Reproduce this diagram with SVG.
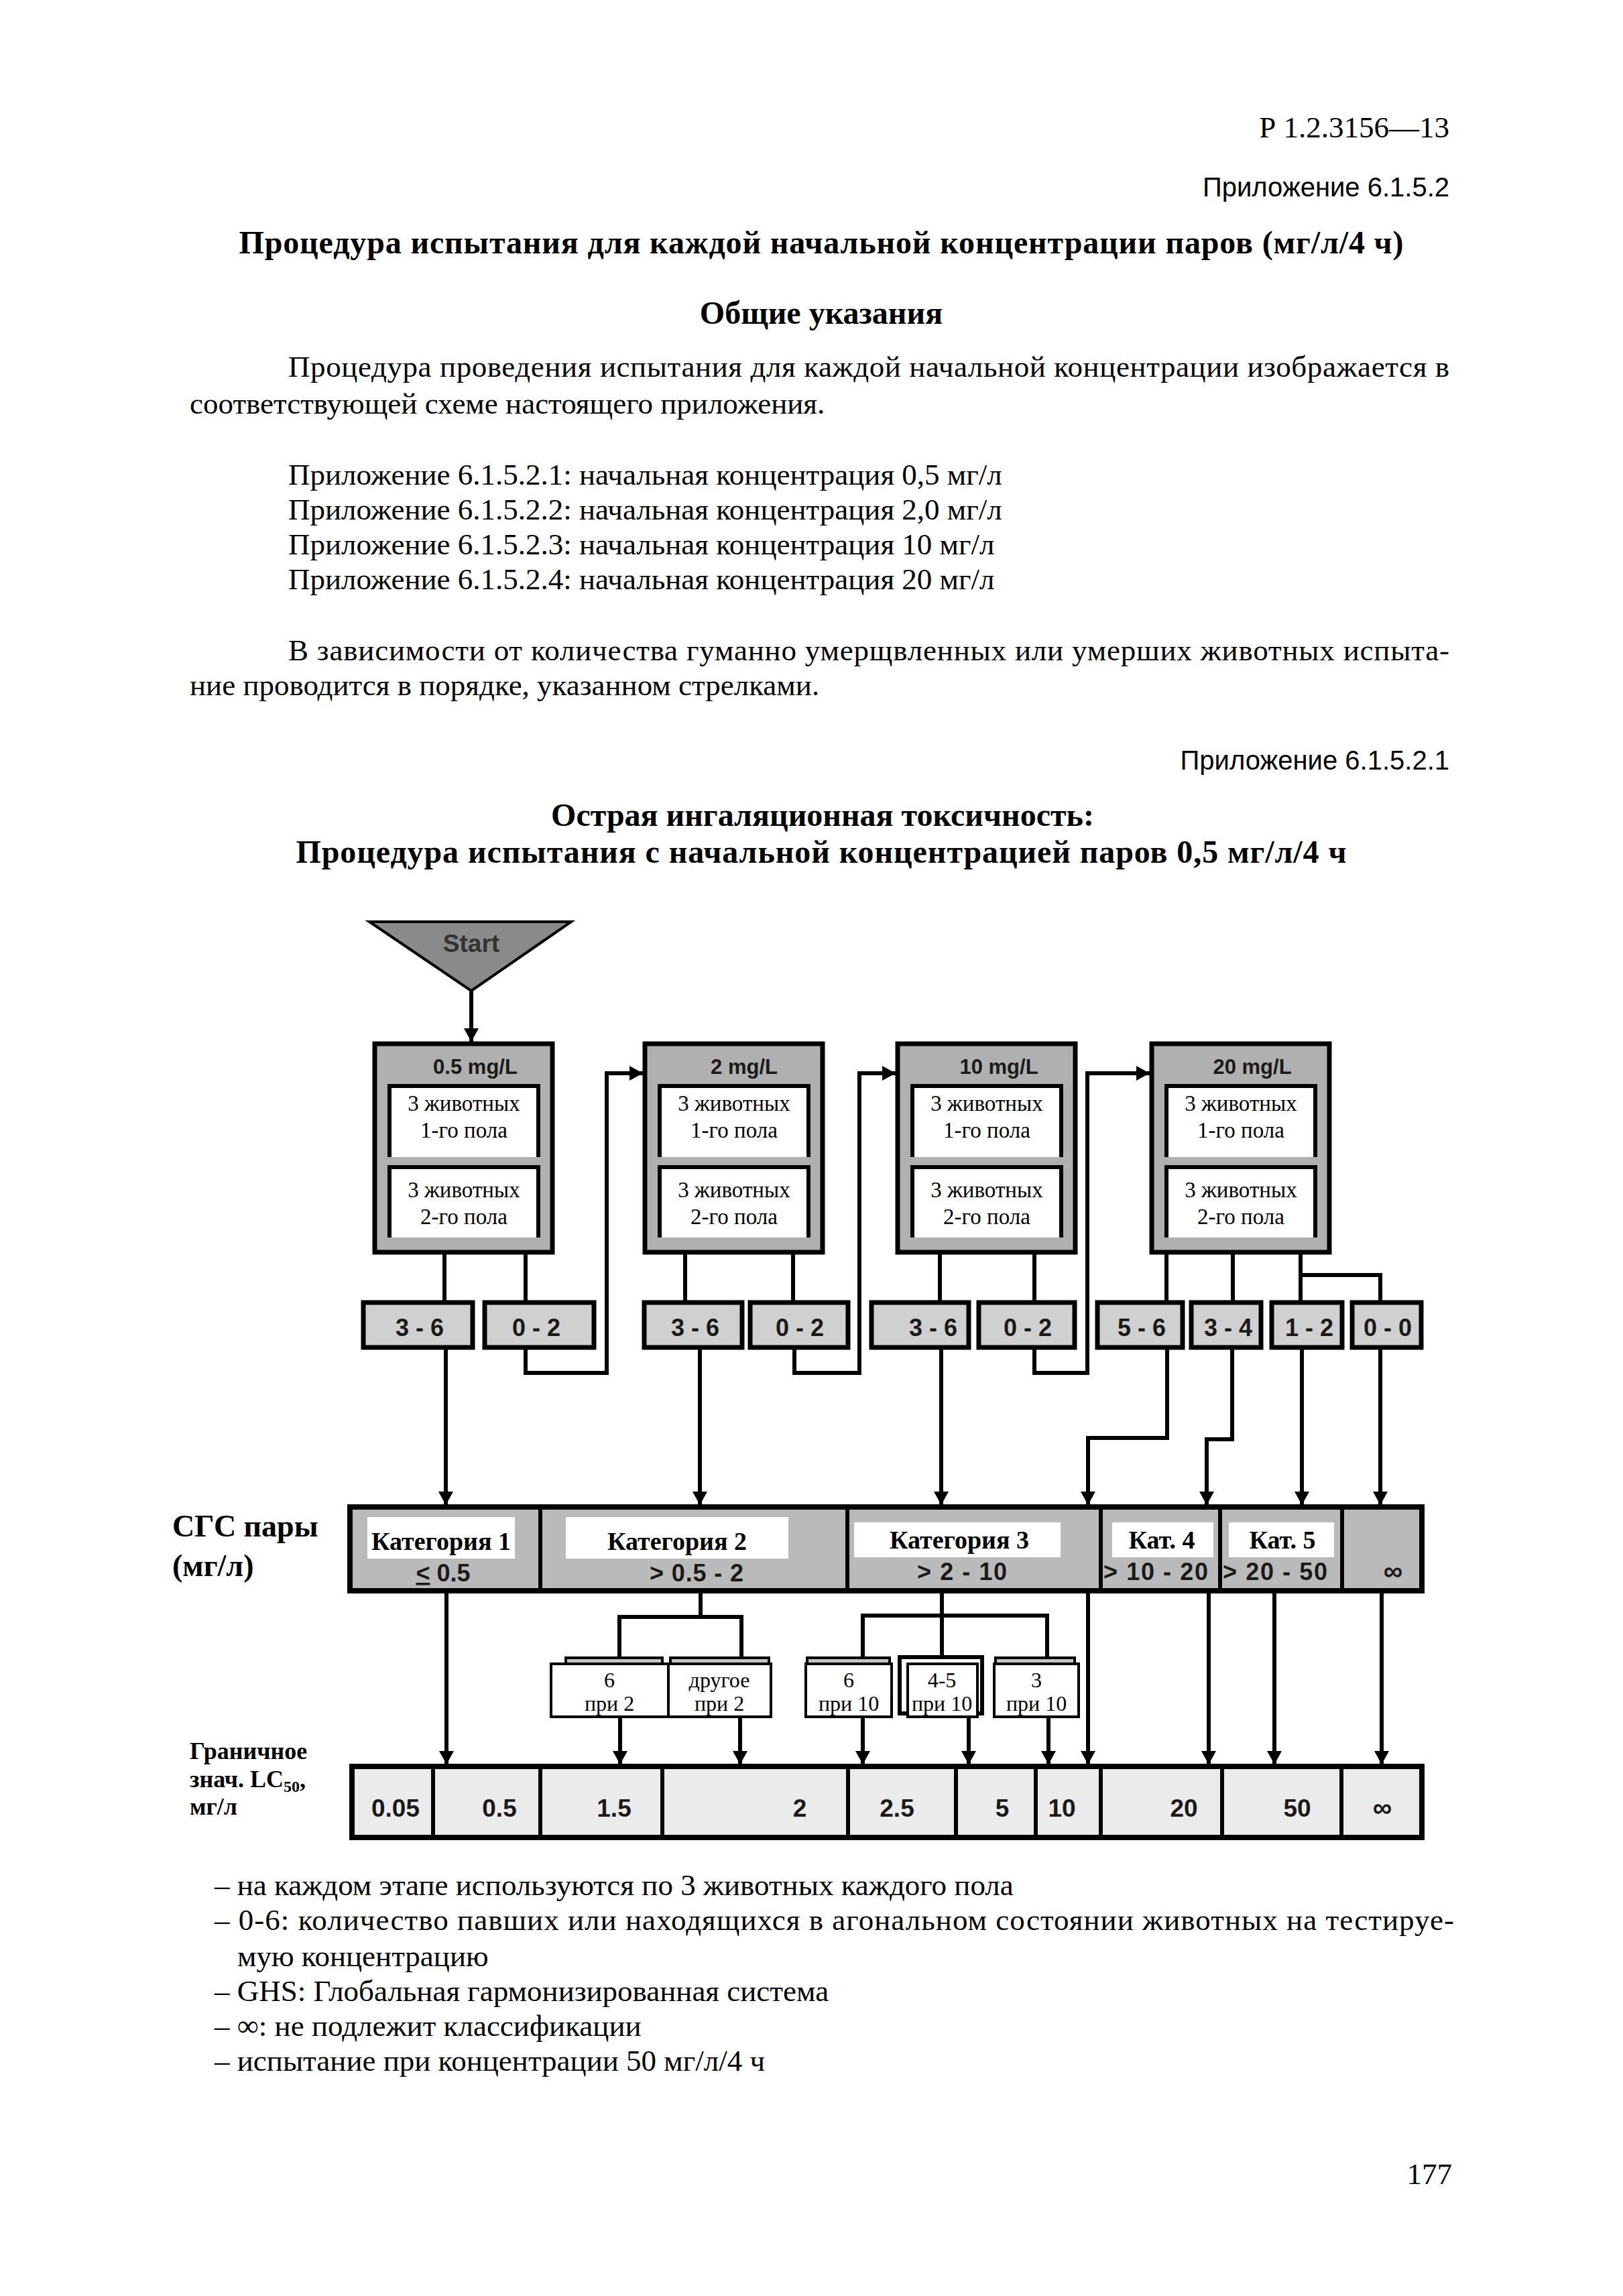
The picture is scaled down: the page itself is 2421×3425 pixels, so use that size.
<svg xmlns="http://www.w3.org/2000/svg" width="2421" height="3425" viewBox="0 0 2421 3425">
<defs>
<style>
.t{font-family:'Liberation Serif','Times New Roman',serif;fill:#000}
.tb{font-family:'Liberation Serif','Times New Roman',serif;font-weight:bold;fill:#000}
.s{font-family:'Liberation Sans',Arial,sans-serif;fill:#000}
.sb{font-family:'Liberation Sans',Arial,sans-serif;font-weight:bold;fill:#1a1a1a}
.c{text-anchor:middle}
.r{text-anchor:end}
.box{fill:#b0b0b0;stroke:#000;stroke-width:7}
.inner{fill:#fff}
.innerb{fill:none;stroke:#000;stroke-width:6}
.step{fill:#d0d0d0;stroke:#000;stroke-width:7}
.cat{fill:#bababa;stroke:#000;stroke-width:8}
.lc{fill:#ebebeb;stroke:#000;stroke-width:8}
.div{stroke:#000;stroke-width:6}
.lab{fill:#fff}
.sub{fill:#fff;stroke:#000;stroke-width:4}
.tab{fill:#c4c4c4;stroke:#000;stroke-width:4}
.conn path{fill:none;stroke:#000;stroke-width:6}
.conn path.a{marker-end:url(#ah)}
</style>
<marker id="ah" markerUnits="userSpaceOnUse" markerWidth="22" markerHeight="24" refX="20" refY="11" orient="auto">
<path d="M0,0 L20,11 L0,22 Z" fill="#000"/>
</marker>
</defs>
<rect x="0" y="0" width="2421" height="3425" fill="#fff"/>

<g id="page-text">
<text class="t r" x="2162" y="205" font-size="45">Р 1.2.3156—13</text>
<text class="s r" x="2162" y="293" font-size="40">Приложение 6.1.5.2</text>
<text class="tb c" x="1225" y="378" font-size="48" textLength="1737">Процедура испытания для каждой начальной концентрации паров (мг/л/4 ч)</text>
<text class="tb c" x="1225" y="483" font-size="48">Общие указания</text>
<text class="t" x="430" y="562" font-size="45" textLength="1732">Процедура проведения испытания для каждой начальной концентрации изображается в</text>
<text class="t" x="283" y="617" font-size="45">соответствующей схеме настоящего приложения.</text>
<text class="t" x="430" y="723" font-size="45">Приложение 6.1.5.2.1: начальная концентрация 0,5 мг/л</text>
<text class="t" x="430" y="775" font-size="45">Приложение 6.1.5.2.2: начальная концентрация 2,0 мг/л</text>
<text class="t" x="430" y="827" font-size="45">Приложение 6.1.5.2.3: начальная концентрация 10 мг/л</text>
<text class="t" x="430" y="879" font-size="45">Приложение 6.1.5.2.4: начальная концентрация 20 мг/л</text>
<text class="t" x="430" y="985" font-size="45" textLength="1732">В зависимости от количества гуманно умерщвленных или умерших животных испыта-</text>
<text class="t" x="283" y="1037" font-size="45">ние проводится в порядке, указанном стрелками.</text>
<text class="s r" x="2162" y="1148" font-size="40">Приложение 6.1.5.2.1</text>
<text class="tb c" x="1227" y="1232" font-size="48">Острая ингаляционная токсичность:</text>
<text class="tb c" x="1225" y="1287" font-size="48" textLength="1567">Процедура испытания с начальной концентрацией паров 0,5 мг/л/4 ч</text>
<text class="t" x="320" y="2827" font-size="45">– на каждом этапе используются по 3 животных каждого пола</text>
<text class="t" x="320" y="2879" font-size="45" textLength="1849">– 0-6: количество павших или находящихся в агональном состоянии животных на тестируе-</text>
<text class="t" x="354" y="2933" font-size="45">мую концентрацию</text>
<text class="t" x="320" y="2985" font-size="45">– GHS: Глобальная гармонизированная система</text>
<text class="t" x="320" y="3037" font-size="45">– ∞: не подлежит классификации</text>
<text class="t" x="320" y="3089" font-size="45">– испытание при концентрации 50 мг/л/4 ч</text>
<text class="t r" x="2166" y="3258" font-size="45">177</text>
</g>

<g id="row-labels">
<text class="tb" x="257" y="2292" font-size="46">СГС пары</text>
<text class="tb" x="257" y="2351" font-size="46">(мг/л)</text>
<text class="tb" x="283" y="2624" font-size="36">Граничное</text>
<text class="tb" x="283" y="2666" font-size="36">знач. LC<tspan font-size="24" dy="7">50</tspan><tspan dy="-7">,</tspan></text>
<text class="tb" x="283" y="2707" font-size="36">мг/л</text>
</g>

<g id="start">
<polygon points="551,1375 852,1375 703,1478" fill="#8a8a8a" stroke="#000" stroke-width="4"/>
<text class="sb c" x="703" y="1420" font-size="37" style="fill:#333">Start</text>
</g>

<g id="conc-0-5">
<rect class="box" x="559" y="1557" width="265" height="311"/>
<text class="sb c" x="709" y="1602" font-size="31">0.5 mg/L</text>
<rect class="inner" x="581" y="1620" width="222" height="106"/>
<path class="innerb" d="M581,1726 V1620 H803 V1726"/>
<text class="t c" x="692" y="1657" font-size="33">3 животных</text>
<text class="t c" x="692" y="1697" font-size="33">1-го пола</text>
<rect class="inner" x="581" y="1741" width="222" height="105"/>
<path class="innerb" d="M581,1846 V1741 H803 V1846"/>
<text class="t c" x="692" y="1786" font-size="33">3 животных</text>
<text class="t c" x="692" y="1826" font-size="33">2-го пола</text>
</g>
<g id="conc-2">
<rect class="box" x="962" y="1557" width="265" height="311"/>
<text class="sb c" x="1110" y="1602" font-size="31">2 mg/L</text>
<rect class="inner" x="984" y="1620" width="222" height="106"/>
<path class="innerb" d="M984,1726 V1620 H1206 V1726"/>
<text class="t c" x="1095" y="1657" font-size="33">3 животных</text>
<text class="t c" x="1095" y="1697" font-size="33">1-го пола</text>
<rect class="inner" x="984" y="1741" width="222" height="105"/>
<path class="innerb" d="M984,1846 V1741 H1206 V1846"/>
<text class="t c" x="1095" y="1786" font-size="33">3 животных</text>
<text class="t c" x="1095" y="1826" font-size="33">2-го пола</text>
</g>
<g id="conc-10">
<rect class="box" x="1339" y="1557" width="265" height="311"/>
<text class="sb c" x="1490" y="1602" font-size="31">10 mg/L</text>
<rect class="inner" x="1361" y="1620" width="222" height="106"/>
<path class="innerb" d="M1361,1726 V1620 H1583 V1726"/>
<text class="t c" x="1472" y="1657" font-size="33">3 животных</text>
<text class="t c" x="1472" y="1697" font-size="33">1-го пола</text>
<rect class="inner" x="1361" y="1741" width="222" height="105"/>
<path class="innerb" d="M1361,1846 V1741 H1583 V1846"/>
<text class="t c" x="1472" y="1786" font-size="33">3 животных</text>
<text class="t c" x="1472" y="1826" font-size="33">2-го пола</text>
</g>
<g id="conc-20">
<rect class="box" x="1718" y="1557" width="265" height="311"/>
<text class="sb c" x="1868" y="1602" font-size="31">20 mg/L</text>
<rect class="inner" x="1740" y="1620" width="222" height="106"/>
<path class="innerb" d="M1740,1726 V1620 H1962 V1726"/>
<text class="t c" x="1851" y="1657" font-size="33">3 животных</text>
<text class="t c" x="1851" y="1697" font-size="33">1-го пола</text>
<rect class="inner" x="1740" y="1741" width="222" height="105"/>
<path class="innerb" d="M1740,1846 V1741 H1962 V1846"/>
<text class="t c" x="1851" y="1786" font-size="33">3 животных</text>
<text class="t c" x="1851" y="1826" font-size="33">2-го пола</text>
</g>

<g id="step-1-36"><rect class="step" x="542" y="1943" width="163" height="67"/><text class="sb c" x="626" y="1993" font-size="36">3 - 6</text></g>
<g id="step-1-02"><rect class="step" x="723" y="1943" width="163" height="67"/><text class="sb c" x="800" y="1993" font-size="36">0 - 2</text></g>
<g id="step-2-36"><rect class="step" x="961" y="1943" width="146" height="67"/><text class="sb c" x="1037" y="1993" font-size="36">3 - 6</text></g>
<g id="step-2-02"><rect class="step" x="1119" y="1943" width="146" height="67"/><text class="sb c" x="1193" y="1993" font-size="36">0 - 2</text></g>
<g id="step-3-36"><rect class="step" x="1300" y="1943" width="145" height="67"/><text class="sb c" x="1392" y="1993" font-size="36">3 - 6</text></g>
<g id="step-3-02"><rect class="step" x="1460" y="1943" width="143" height="67"/><text class="sb c" x="1533" y="1993" font-size="36">0 - 2</text></g>
<g id="step-4-56"><rect class="step" x="1637" y="1943" width="127" height="67"/><text class="sb c" x="1703" y="1993" font-size="36">5 - 6</text></g>
<g id="step-4-34"><rect class="step" x="1777" y="1943" width="104" height="67"/><text class="sb c" x="1832" y="1993" font-size="36">3 - 4</text></g>
<g id="step-4-12"><rect class="step" x="1897" y="1943" width="105" height="67"/><text class="sb c" x="1953" y="1993" font-size="36">1 - 2</text></g>
<g id="step-4-00"><rect class="step" x="2017" y="1943" width="103" height="67"/><text class="sb c" x="2070" y="1993" font-size="36">0 - 0</text></g>

<g id="categories">
<rect class="cat" x="522" y="2248" width="1599" height="125"/>
<line class="div" x1="806" y1="2248" x2="806" y2="2373"/>
<line class="div" x1="1264" y1="2248" x2="1264" y2="2373"/>
<line class="div" x1="1642" y1="2248" x2="1642" y2="2373"/>
<line class="div" x1="1820" y1="2248" x2="1820" y2="2373"/>
<line class="div" x1="2002" y1="2248" x2="2002" y2="2373"/>
<rect class="lab" x="548" y="2263" width="220" height="62"/>
<rect class="lab" x="844" y="2263" width="332" height="62"/>
<rect class="lab" x="1274" y="2271" width="308" height="52"/>
<rect class="lab" x="1659" y="2271" width="151" height="52"/>
<rect class="lab" x="1833" y="2271" width="157" height="52"/>
<text class="tb c" x="658" y="2312" font-size="38">Категория 1</text>
<text class="tb c" x="1010" y="2312" font-size="38">Категория 2</text>
<text class="tb c" x="1431" y="2310" font-size="38">Категория 3</text>
<text class="tb c" x="1733" y="2310" font-size="38">Кат. 4</text>
<text class="tb c" x="1913" y="2310" font-size="38">Кат. 5</text>
<text class="sb c" x="661" y="2359" font-size="36"><tspan text-decoration="underline">&lt;</tspan> 0.5</text>
<text class="sb c" x="1039" y="2359" font-size="36" textLength="140">&gt; 0.5 - 2</text>
<text class="sb c" x="1435" y="2357" font-size="36" textLength="134">&gt; 2 - 10</text>
<text class="sb c" x="1724" y="2357" font-size="36" textLength="156">&gt; 10 - 20</text>
<text class="sb c" x="1902" y="2357" font-size="36" textLength="156">&gt; 20 - 50</text>
<text class="sb c" x="2078" y="2357" font-size="40">∞</text>
</g>

<g id="sub-cat2">
<rect class="tab" x="844" y="2473" width="144" height="10"/>
<rect class="tab" x="1000" y="2473" width="147" height="10"/>
<rect class="sub" x="822" y="2482" width="175" height="79"/>
<rect class="sub" x="997" y="2482" width="153" height="79"/>
<text class="t c" x="909" y="2517" font-size="32">6</text>
<text class="t c" x="909" y="2552" font-size="32">при 2</text>
<text class="t c" x="1073" y="2517" font-size="32">другое</text>
<text class="t c" x="1073" y="2552" font-size="32">при 2</text>
</g>
<g id="sub-cat3-6">
<rect class="tab" x="1204" y="2473" width="123" height="10"/>
<rect class="sub" x="1202" y="2482" width="128" height="79"/>
<text class="t c" x="1266" y="2517" font-size="32">6</text>
<text class="t c" x="1266" y="2552" font-size="32">при 10</text>
</g>
<g id="sub-cat3-45">
<rect x="1342" y="2472" width="123" height="84" fill="#fff" stroke="#000" stroke-width="6"/>
<rect class="sub" x="1354" y="2482" width="104" height="79"/>
<text class="t c" x="1405" y="2517" font-size="32">4-5</text>
<text class="t c" x="1405" y="2552" font-size="32">при 10</text>
</g>
<g id="sub-cat3-3">
<rect class="tab" x="1485" y="2473" width="118" height="10"/>
<rect class="sub" x="1483" y="2482" width="126" height="79"/>
<text class="t c" x="1546" y="2517" font-size="32">3</text>
<text class="t c" x="1546" y="2552" font-size="32">при 10</text>
</g>

<g id="lc50">
<rect class="lc" x="525" y="2635" width="1596" height="106"/>
<line class="div" x1="646" y1="2635" x2="646" y2="2741"/>
<line class="div" x1="806" y1="2635" x2="806" y2="2741"/>
<line class="div" x1="988" y1="2635" x2="988" y2="2741"/>
<line class="div" x1="1265" y1="2635" x2="1265" y2="2741"/>
<line class="div" x1="1426" y1="2635" x2="1426" y2="2741"/>
<line class="div" x1="1545" y1="2635" x2="1545" y2="2741"/>
<line class="div" x1="1642" y1="2635" x2="1642" y2="2741"/>
<line class="div" x1="1823" y1="2635" x2="1823" y2="2741"/>
<line class="div" x1="2001" y1="2635" x2="2001" y2="2741"/>
<text class="sb c" x="590" y="2710" font-size="37">0.05</text>
<text class="sb c" x="745" y="2710" font-size="37">0.5</text>
<text class="sb c" x="916" y="2710" font-size="37">1.5</text>
<text class="sb c" x="1193" y="2710" font-size="37">2</text>
<text class="sb c" x="1338" y="2710" font-size="37">2.5</text>
<text class="sb c" x="1495" y="2710" font-size="37">5</text>
<text class="sb c" x="1584" y="2710" font-size="37">10</text>
<text class="sb c" x="1766" y="2710" font-size="37">20</text>
<text class="sb c" x="1935" y="2710" font-size="37">50</text>
<text class="sb c" x="2062" y="2710" font-size="40">∞</text>
</g>

<g id="connectors" class="conn">
<path class="a" d="M703,1478 V1554"/>
<path d="M663,1868 V1943"/>
<path d="M784,1868 V1943"/>
<path class="a" d="M665,2010 V2245"/>
<path class="a" d="M784,2010 V2048 H905 V1601 H959"/>
<path d="M1022,1868 V1943"/>
<path d="M1183,1868 V1943"/>
<path class="a" d="M1044,2010 V2245"/>
<path class="a" d="M1185,2010 V2048 H1282 V1601 H1336"/>
<path d="M1402,1868 V1943"/>
<path d="M1543,1868 V1943"/>
<path class="a" d="M1404,2010 V2245"/>
<path class="a" d="M1543,2010 V2048 H1622 V1601 H1715"/>
<path d="M1740,1868 V1943"/>
<path d="M1839,1868 V1943"/>
<path d="M1940,1868 V1943"/>
<path d="M1940,1902 H2059 V1943"/>
<path class="a" d="M1741,2010 V2145 H1623 V2245"/>
<path class="a" d="M1838,2010 V2147 H1800 V2245"/>
<path class="a" d="M1942,2010 V2245"/>
<path class="a" d="M2059,2010 V2245"/>
<path class="a" d="M666,2373 V2632"/>
<path d="M1045,2373 V2412"/>
<path d="M924,2474 V2412 H1106 V2474"/>
<path class="a" d="M925,2561 V2632"/>
<path class="a" d="M1104,2561 V2632"/>
<path d="M1405,2373 V2472"/>
<path d="M1287,2473 V2410 H1562 V2473"/>
<path class="a" d="M1287,2561 V2632"/>
<path class="a" d="M1445,2561 V2632"/>
<path class="a" d="M1564,2561 V2632"/>
<path class="a" d="M1623,2373 V2632"/>
<path class="a" d="M1803,2373 V2632"/>
<path class="a" d="M1901,2373 V2632"/>
<path class="a" d="M2061,2373 V2632"/>
</g>
</svg>
